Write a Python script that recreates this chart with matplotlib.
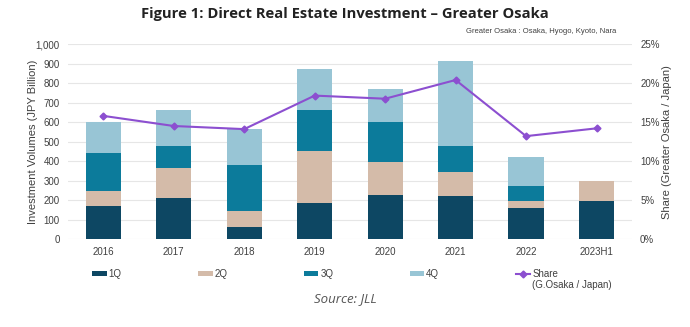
import matplotlib
matplotlib.use("Agg")
import matplotlib.pyplot as plt
import numpy as np

# data (JPY billion)
years = ["2016", "2017", "2018", "2019", "2020", "2021", "2022", "2023H1"]
q1 = [170, 212, 62, 186, 224, 222, 161, 193]
q2 = [75, 154, 83, 264, 169, 122, 32, 103]
q3 = [198, 112, 234, 210, 210, 131, 79, 0]
q4 = [155, 184, 188, 212, 166, 439, 150, 0]
share = [15.8, 14.5, 14.1, 18.4, 18.0, 20.4, 13.2, 14.2]

colors = ["#0d4763", "#d4bba9", "#0c7b9b", "#98c5d5"]
purple = "#8c4fd0"

plt.rcParams["font.family"] = ["Liberation Sans", "DejaVu Sans"]

fig = plt.figure(figsize=(6.9, 3.27), dpi=100)
ax = fig.add_axes([0.0986, 0.269, 0.817, 0.596])

x = np.arange(len(years))
bottom = np.zeros(len(years))
labels = ["1Q", "2Q", "3Q", "4Q"]
for vals, c, lab in zip([q1, q2, q3, q4], colors, labels):
    ax.bar(x, vals, 0.5, bottom=bottom, color=c, label=lab, zorder=2)
    bottom += np.array(vals)

ax.set_ylim(0, 1000)
ax.set_xlim(-0.5, 7.5)
ax.set_yticks(range(0, 1001, 100))
ax.set_yticklabels([f"{v:,}" for v in range(0, 1001, 100)])
ax.set_xticks(x)
ax.set_xticklabels(years)
ax.grid(axis="y", color="#e6e6e6", linewidth=0.8, zorder=0)
ax.set_axisbelow(True)
for s in ax.spines.values():
    s.set_visible(False)
ax.tick_params(length=0, labelsize=7, colors="#404040", pad=6)
ax.set_ylabel("Investment Volumes (JPY Billion)", fontsize=8, color="#404040",
              labelpad=-2)

ax2 = ax.twinx()
ax2.plot(x, share, color=purple, marker="D", markersize=3.5, linewidth=1.5,
         label="Share", zorder=3)
ax2.set_ylim(0, 25)
ax2.set_yticks(range(0, 26, 5))
ax2.set_yticklabels([f"{v}%" for v in range(0, 26, 5)])
for s in ax2.spines.values():
    s.set_visible(False)
ax2.tick_params(length=0, labelsize=7, colors="#404040", pad=6)
ax2.set_ylabel("Share (Greater Osaka / Japan)", fontsize=8, color="#404040",
               labelpad=2)

h1, l1 = ax.get_legend_handles_labels()
h2, l2 = ax2.get_legend_handles_labels()
leg = fig.legend(h1 + h2, l1 + l2, ncol=5, loc="upper left",
                 bbox_to_anchor=(0.128, 0.19), frameon=False, fontsize=7,
                 handlelength=1.5, handleheight=0.4, handletextpad=0.2,
                 columnspacing=7.85, labelcolor="#404040", borderaxespad=0)

# second line of the Share label, under the first
fig.canvas.draw()
bb = leg.get_texts()[4].get_window_extent().transformed(fig.transFigure.inverted())
fig.text(bb.x0, bb.y0 - 0.004, "(G.Osaka / Japan)", ha="left", va="top",
         fontsize=7, color="#404040")

fig.text(0.5, 0.958, "Figure 1: Direct Real Estate Investment \u2013 Greater Osaka",
         ha="center", va="center", fontsize=10.6, fontweight="bold",
         family="Open Sans", color="#222222")
fig.text(0.893, 0.905, "Greater Osaka : Osaka, Hyogo, Kyoto, Nara",
         ha="right", va="center", fontsize=5.5, color="#404040")
fig.text(0.5, 0.088, "Source: JLL", ha="center", va="center", fontsize=9.5,
         style="italic", family="Open Sans", color="#555555")

fig.savefig("out.png", dpi=100)
